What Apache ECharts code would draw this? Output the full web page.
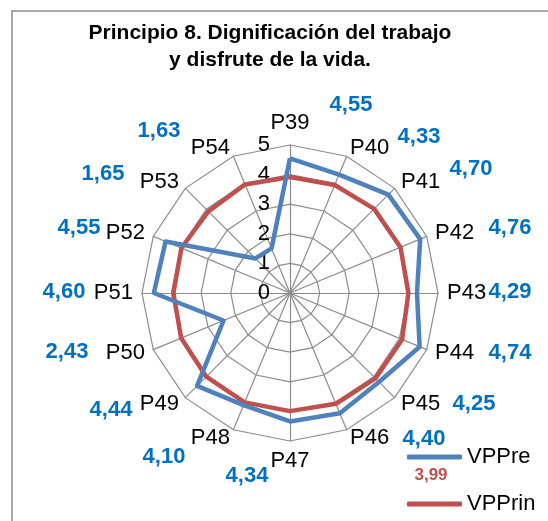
<!DOCTYPE html>
<html>
<head>
<meta charset="UTF-8">
<title>Principio 8</title>
<script type="text/javascript" src="https://cdn.jsdelivr.net/npm/echarts@6/dist/echarts.min.js"></script>
</head>
<body style="margin:0;background:#fff;">
<div id="container" style="width:548px;height:521px;"></div>
<script type="text/javascript">
// indicadores en sentido horario desde arriba
var indicators = ['P39', 'P40', 'P41', 'P42', 'P43', 'P44', 'P45', 'P46',
                  'P47', 'P48', 'P49', 'P50', 'P51', 'P52', 'P53', 'P54'];
var vppre = [4.55, 4.33, 4.70, 4.76, 4.29, 4.74, 4.25, 4.40,
             4.34, 4.10, 4.44, 2.43, 4.60, 4.55, 1.65, 1.63];
var vpprin = [3.92, 3.95, 4.02, 4.04, 4.00, 4.10, 4.08, 4.05,
              3.99, 4.00, 4.00, 3.98, 3.94, 3.97, 3.90, 3.97];
var vpprinMean = 3.99;
var seriesNames = ['VPPre', 'VPPrin'];

// posiciones de las etiquetas de valor (cuadros de texto del original)
var labelPos = [[351, 105], [419, 137], [471, 169], [510, 228], [510, 292], [510, 353],
                [474, 404], [424, 439], [247, 476], [164, 457], [111, 410], [67, 352],
                [64, 292], [79, 228], [103, 174], [159, 131]];

var FONT = '"Liberation Sans", Arial, sans-serif';
var BLUE = '#4F81BD', RED = '#C0504D', LBLUE = '#0070C0';

// echarts pone los indicadores en sentido antihorario: invertir el orden
var order = [0];
for (var k = indicators.length - 1; k > 0; k--) order.push(k);
function reorder(arr) { return order.map(function (i) { return arr[i]; }); }

var indicatorOpts = reorder(indicators).map(function (name, i) {
    var o = { name: name, min: 0, max: 5 };
    if (i === 0) {
        o.axisLabel = { show: true, fontSize: 22, color: '#000', fontFamily: FONT, margin: 20 };
    }
    return o;
});

function fmt(v) { return v.toFixed(2).replace('.', ','); }

var texts = vppre.map(function (v, i) {
    return {
        type: 'text',
        silent: true,
        style: {
            text: fmt(v), x: labelPos[i][0], y: labelPos[i][1],
            textAlign: 'center', textVerticalAlign: 'middle',
            font: 'bold 22px ' + FONT, fill: LBLUE
        }
    };
});
texts.push({
    type: 'text',
    silent: true,
    style: {
        text: fmt(vpprinMean), x: 431, y: 475,
        textAlign: 'center', textVerticalAlign: 'middle',
        font: 'bold 17px ' + FONT, fill: RED
    }
});
texts.push({
    type: 'rect',
    silent: true,
    z: -10,
    shape: { x: 12, y: 11, width: 700, height: 700 },
    style: { fill: 'none', stroke: '#8c8c8c', lineWidth: 1.5 }
});

var dom = document.getElementById('container');
var myChart = echarts.init(dom);

var option = {
    animation: false,
    backgroundColor: '#fff',
    title: {
        text: 'Principio 8. Dignificación del trabajo\ny disfrute de la vida.',
        left: 265,
        top: 15,
        textAlign: 'center',
        textStyle: { fontFamily: FONT, fontSize: 21, fontWeight: 'bold', color: '#000', lineHeight: 27 }
    },
    legend: {
        data: seriesNames,
        orient: 'vertical',
        left: 407,
        top: 446,
        padding: 0,
        icon: 'roundRect',
        itemWidth: 55,
        itemHeight: 5,
        itemGap: 25,
        textStyle: { fontFamily: FONT, fontSize: 22, color: '#000' }
    },
    radar: {
        center: [290, 293],
        radius: 148,
        startAngle: 90,
        splitNumber: 5,
        shape: 'polygon',
        indicator: indicatorOpts,
        nameGap: 9,
        axisName: { color: '#000', fontFamily: FONT, fontSize: 22 },
        axisLabel: { show: false },
        axisLine: { lineStyle: { color: '#8c8c8c', width: 1.2 } },
        splitLine: { lineStyle: { color: '#8c8c8c', width: 1.2 } },
        splitArea: { show: false }
    },
    graphic: texts,
    series: [{
        type: 'radar',
        silent: true,
        symbol: 'none',
        data: [
            { name: seriesNames[0], value: reorder(vppre),
              lineStyle: { color: BLUE, width: 4.5 }, itemStyle: { color: BLUE } },
            { name: seriesNames[1], value: reorder(vpprin),
              lineStyle: { color: RED, width: 4.5 }, itemStyle: { color: RED } }
        ],
        z: 3
    }]
};

// la roja debajo de la azul como en el original
option.series[0].data.reverse();

myChart.setOption(option);
</script>
</body>
</html>
